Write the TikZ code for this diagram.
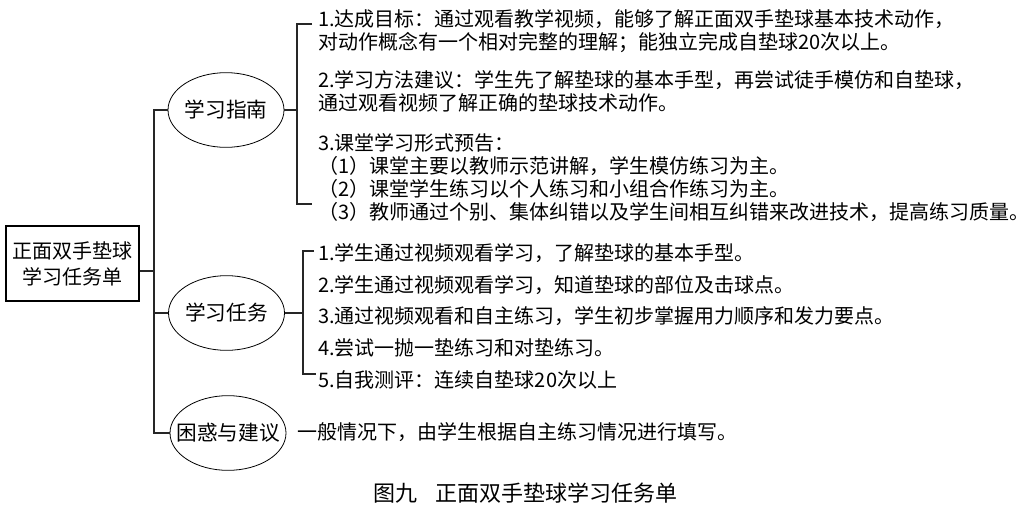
\documentclass[tikz,border=0pt]{standalone}
\usepackage{fontspec}
\setmainfont{Noto Sans CJK SC}
\usetikzlibrary{shapes.geometric}
\begin{document}
\begin{tikzpicture}[x=0.75pt,y=-0.75pt,
  txt/.style={anchor=west, inner sep=0pt, align=left, font=\fontsize{15}{17.25}\selectfont},
  topic/.style={ellipse, draw, line width=0.6pt, minimum width=87pt, minimum height=56pt, inner xsep=-8pt, inner ysep=0pt, font=\fontsize{15.5}{18}\selectfont},
  mainbox/.style={draw, line width=1pt, minimum width=99.75pt, minimum height=56.25pt, inner sep=0pt, align=center, font=\fontsize{15}{19.5}\selectfont},
  link/.style={draw=black!85, line width=1.5pt},
  captionstyle/.style={inner sep=0pt, font=\fontsize{16.5}{18}\selectfont}]
\useasboundingbox (0,0) rectangle (1034,511);

% main box and topics
\node[mainbox] (main) at (72.5,263.5) {正面双手垫球\\学习任务单};
\node[topic] (e1) at (226,110) {学习指南};
\node[topic] (e2) at (226.5,313) {学习任务};
\node[topic] (e3) at (228,433) {困惑与建议};

% trunk
\coordinate (T) at (154,0);
\coordinate (tMid) at (154,271);
\draw[link] (main.east |- tMid) -- (tMid);
\draw[link] (e1.west) -- (e1.west -| T) -- (e3.west -| T) -- (e3.west);
\draw[link] (e2.west) -- (e2.west -| T);

% bracket 1
\coordinate (b1t) at (297,24);
\coordinate (b1b) at (297,204);
\coordinate (b1tr) at (312,24);
\coordinate (b1br) at (312,204);
\draw[link] (b1tr) -- (b1t) -- (b1b) -- (b1br);
\draw[link] (e1.east) -- (e1.east -| b1t);

% bracket 2
\coordinate (b2t) at (303,251);
\coordinate (b2b) at (303,374);
\coordinate (b2tr) at (314,251);
\coordinate (b2br) at (316,374);
\draw[link] (b2tr) -- (b2t) -- (b2b) -- (b2br);
\draw[link] (e2.east) -- (e2.east -| b2t);

% texts group 1
\node[txt] (g1a) at (318,31.5) {1.达成目标：通过观看教学视频，能够了解正面双手垫球基本技术动作，\\对动作概念有一个相对完整的理解；能独立完成自垫球20次以上。};
\node[txt] (g1b) at (318,91.5) {2.学习方法建议：学生先了解垫球的基本手型，再尝试徒手模仿和自垫球，\\通过观看视频了解正确的垫球技术动作。};
\node[txt] (g1c) at (318,177.5) {3.课堂学习形式预告：\\（1）课堂主要以教师示范讲解，学生模仿练习为主。\\（2）课堂学生练习以个人练习和小组合作练习为主。\\（3）教师通过个别、集体纠错以及学生间相互纠错来改进技术，提高练习质量。};

% texts group 2
\node[txt] (g2a) at (318,253) {1.学生通过视频观看学习，了解垫球的基本手型。};
\node[txt] (g2b) at (318,285) {2.学生通过视频观看学习，知道垫球的部位及击球点。};
\node[txt] (g2c) at (318,316) {3.通过视频观看和自主练习，学生初步掌握用力顺序和发力要点。};
\node[txt] (g2d) at (318,348) {4.尝试一抛一垫练习和对垫练习。};
\node[txt] (g2e) at (318,380) {5.自我测评：连续自垫球20次以上};

% text group 3
\node[txt] (g3) at (297,432) {一般情况下，由学生根据自主练习情况进行填写。};

% caption
\node[captionstyle] (cap) at (525,493) {图九\hspace{13.5pt}正面双手垫球学习任务单};
\end{tikzpicture}
\end{document}
